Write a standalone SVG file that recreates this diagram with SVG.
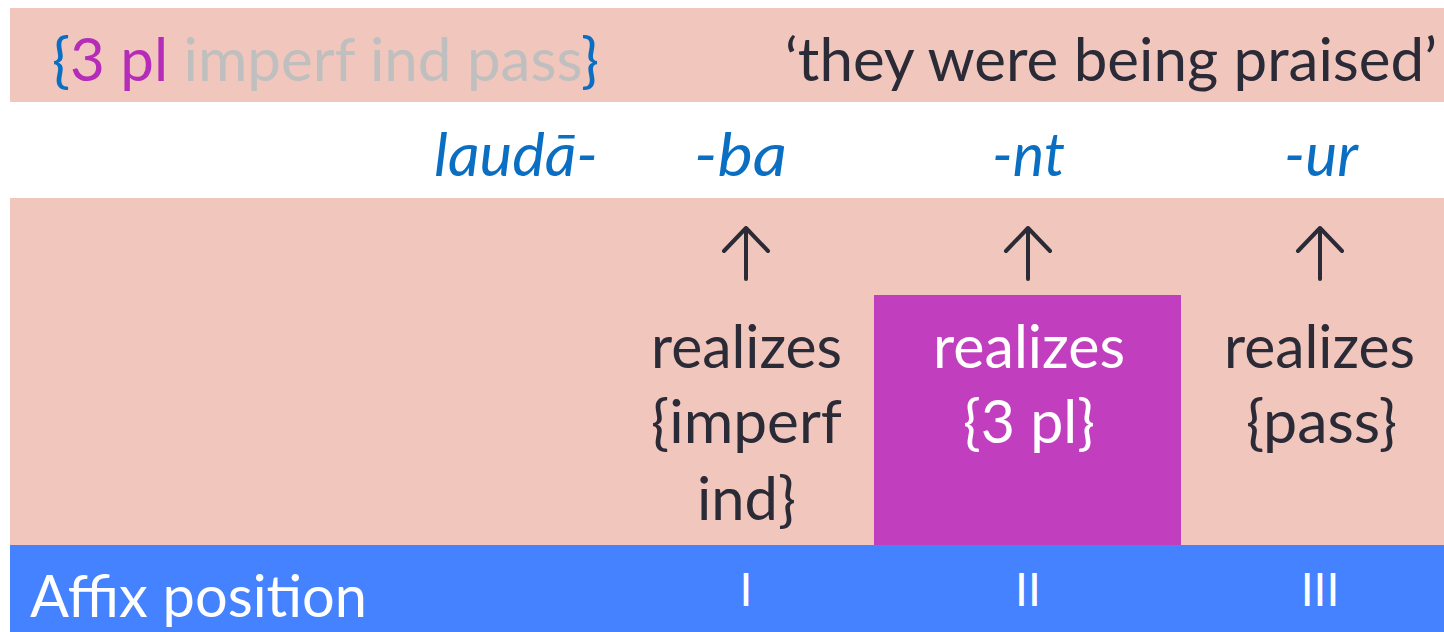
<svg xmlns="http://www.w3.org/2000/svg" width="1444" height="632" viewBox="0 0 1444 632">
<style>
.t{font-family:Lato,"Open Sans","Liberation Sans",sans-serif;font-size:60px;fill:#2B2A37}
.it{font-family:Lato,"Open Sans","Liberation Sans",sans-serif;font-size:60px;font-style:italic;fill:#0A6FC2}
.w{fill:#FFFFFF}
.num{font-family:Lato,"Open Sans","Liberation Sans",sans-serif;font-size:46px;fill:#FFFFFF}
.arr{fill:none;stroke:#2B2A37;stroke-width:4;stroke-linecap:round;stroke-linejoin:round}
</style>
<rect width="1444" height="632" fill="#FFFFFF"/>
<g id="top-band">
<rect x="10" y="8" width="1434" height="94" fill="#F1C6BC"/>
<text class="t" x="52" y="81" textLength="547" lengthAdjust="spacingAndGlyphs"><tspan fill="#0A6FC2">{</tspan><tspan fill="#B52CB8">3 pl </tspan><tspan fill="#BFBFBF">imperf ind pass</tspan><tspan fill="#0A6FC2">}</tspan></text>
<text class="t" x="785" y="81" textLength="652" lengthAdjust="spacingAndGlyphs">‘they were being praised’</text>
</g>
<g id="forms">
<text class="it" x="434" y="176" textLength="164" lengthAdjust="spacingAndGlyphs">laudā-</text>
<text class="it" x="694" y="176" textLength="93" lengthAdjust="spacingAndGlyphs">-ba</text>
<text class="it" x="992" y="176" textLength="73" lengthAdjust="spacingAndGlyphs">-nt</text>
<text class="it" x="1284" y="176" textLength="74" lengthAdjust="spacingAndGlyphs">-ur</text>
</g>
<g id="middle-band">
<rect x="10" y="198" width="1434" height="347" fill="#F1C6BC"/>
</g>
<g id="node-I">
<text class="t" x="651" y="368" textLength="191" lengthAdjust="spacingAndGlyphs">realizes</text>
<text class="t" x="651" y="443" textLength="191" lengthAdjust="spacingAndGlyphs">{imperf</text>
<text class="t" x="697" y="520" textLength="99" lengthAdjust="spacingAndGlyphs">ind}</text>
</g>
<g id="node-II">
<rect x="874" y="295" width="307" height="250" fill="#C13FBE"/>
<text class="t w" x="933" y="368" textLength="192" lengthAdjust="spacingAndGlyphs">realizes</text>
<text class="t w" x="963" y="443" textLength="132" lengthAdjust="spacingAndGlyphs">{3 pl}</text>
</g>
<g id="node-III">
<text class="t" x="1224" y="368" textLength="191" lengthAdjust="spacingAndGlyphs">realizes</text>
<text class="t" x="1246" y="443" textLength="151" lengthAdjust="spacingAndGlyphs">{pass}</text>
</g>
<g id="connectors">
<path class="arr" d="M746 279V228M724 251L746 228L768 251"/>
<path class="arr" d="M1028 279V228M1006 251L1028 228L1050 251"/>
<path class="arr" d="M1320 279V228M1298 251L1320 228L1342 251"/>
</g>
<g id="position-band">
<rect x="10" y="545" width="1434" height="87" fill="#4482FF"/>
<text class="t w" x="30" y="617" textLength="337" lengthAdjust="spacingAndGlyphs" style="font-size:58px">Affix position</text>
<text class="num" x="746" y="606" text-anchor="middle">I</text>
<text class="num" x="1028" y="606" text-anchor="middle">II</text>
<text class="num" x="1320" y="606" text-anchor="middle">III</text>
</g>
</svg>
